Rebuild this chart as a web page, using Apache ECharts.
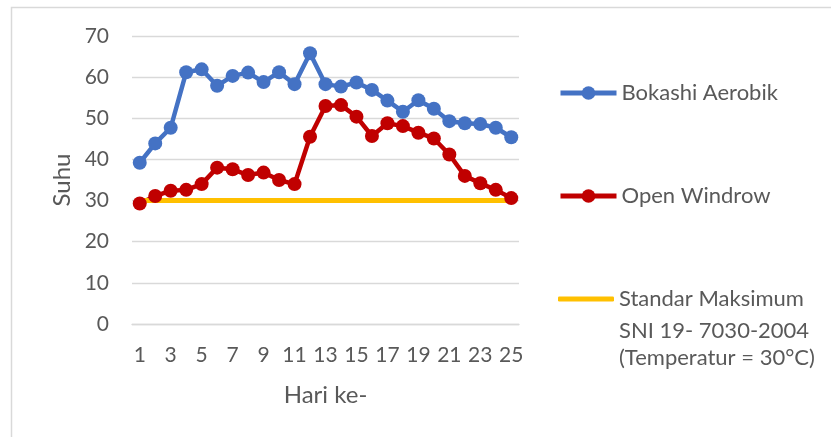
<!DOCTYPE html>
<html>
<head>
<meta charset="utf-8">
<script src="https://cdn.jsdelivr.net/npm/echarts@6/dist/echarts.min.js"></script>
<style>
  html, body { margin: 0; padding: 0; background: #fff; }
  #chart { width: 831px; height: 437px; }
</style>
</head>
<body>
<div id="chart"></div>
<script>
// hari ke-1 .. 25
const days = ['1','2','3','4','5','6','7','8','9','10','11','12','13','14','15','16','17','18','19','20','21','22','23','24','25']
const bokashiAerobik = [39.2, 43.9, 47.7, 61.2, 61.9, 57.9, 60.3, 61.1, 58.8, 61.2, 58.3, 65.8, 58.3, 57.7, 58.7, 56.9, 54.3, 51.6, 54.4, 52.3, 49.3, 48.8, 48.6, 47.7, 45.4]
const openWindrow = [29.3, 31.1, 32.4, 32.6, 34.0, 38.0, 37.6, 36.2, 36.8, 35.0, 34.0, 45.5, 53.0, 53.2, 50.4, 45.7, 48.8, 48.1, 46.5, 45.1, 41.2, 36.0, 34.2, 32.6, 30.6]
const standarMaks = [30, 30, 30, 30, 30, 30, 30, 30, 30, 30, 30, 30, 30, 30, 30, 30, 30, 30, 30, 30, 30, 30, 30, 30, 30]

const font = 'Lato'
const textColor = '#595959'
const gridColor = '#d9d9d9'
const axisFs = 21
const nameFs = 24
const legendFs = 22

const chart = echarts.init(document.getElementById('chart'))

const legendBase = {
  orient: 'vertical',
  left: 553,
  itemWidth: 56,
  itemHeight: 17,
  itemGap: 4,
  lineStyle: { width: 5 },
  textStyle: { fontFamily: font, fontSize: legendFs, color: textColor },
}

chart.setOption({
  animation: false,
  backgroundColor: '#fff',
  textStyle: { fontFamily: font },
  grid: { left: 132, right: 312, top: 36, bottom: 113 },
  legend: [
    { ...legendBase, top: 77, data: ['Bokashi Aerobik'] },
    { ...legendBase, top: 180, data: ['Open Windrow'] },
    { ...legendBase, top: 283, itemHeight: 5, data: [{ name: 'Standar Maksimum', icon: 'roundRect' }] },
  ],
  graphic: [
    {
      type: 'rect',
      shape: { x: 11.5, y: 7.5, width: 900, height: 500 },
      style: { fill: 'none', stroke: gridColor, lineWidth: 1.5 },
      silent: true,
    },
    {
      type: 'text', left: 619, top: 320,
      style: { text: 'SNI 19- 7030-2004', font: legendFs + 'px Lato', fill: textColor },
    },
    {
      type: 'text', left: 619, top: 347,
      style: { text: '(Temperatur = 30°C)', font: legendFs + 'px Lato', fill: textColor },
    },
  ],
  xAxis: {
    type: 'category',
    data: days,
    name: 'Hari ke-',
    nameLocation: 'middle',
    nameGap: 59,
    nameTextStyle: { fontFamily: font, fontSize: nameFs, color: textColor },
    axisLine: { lineStyle: { color: gridColor, width: 1.3 } },
    axisTick: { show: false },
    axisLabel: { interval: 1, margin: 21, fontFamily: font, fontSize: axisFs, color: textColor },
  },
  yAxis: {
    type: 'value',
    min: 0,
    max: 70,
    interval: 10,
    name: 'Suhu',
    nameLocation: 'middle',
    nameGap: 58,
    nameRotate: 90,
    nameTextStyle: { fontFamily: font, fontSize: nameFs, color: textColor },
    axisLine: { show: false },
    axisTick: { show: false },
    splitLine: { lineStyle: { color: gridColor, width: 1.3 } },
    axisLabel: { margin: 23, fontFamily: font, fontSize: axisFs, color: textColor },
  },
  series: [
    {
      name: 'Bokashi Aerobik',
      type: 'line',
      data: bokashiAerobik,
      symbol: 'circle',
      symbolSize: 14,
      showAllSymbol: true,
      color: '#4472C4',
      lineStyle: { width: 4.5 },
    },
    {
      name: 'Open Windrow',
      type: 'line',
      data: openWindrow,
      symbol: 'circle',
      symbolSize: 14,
      showAllSymbol: true,
      color: '#C00000',
      lineStyle: { width: 4.5 },
    },
    {
      name: 'Standar Maksimum',
      type: 'line',
      data: standarMaks,
      symbol: 'none',
      color: '#FFC000',
      lineStyle: { width: 5 },
    },
  ],
})
</script>
</body>
</html>
